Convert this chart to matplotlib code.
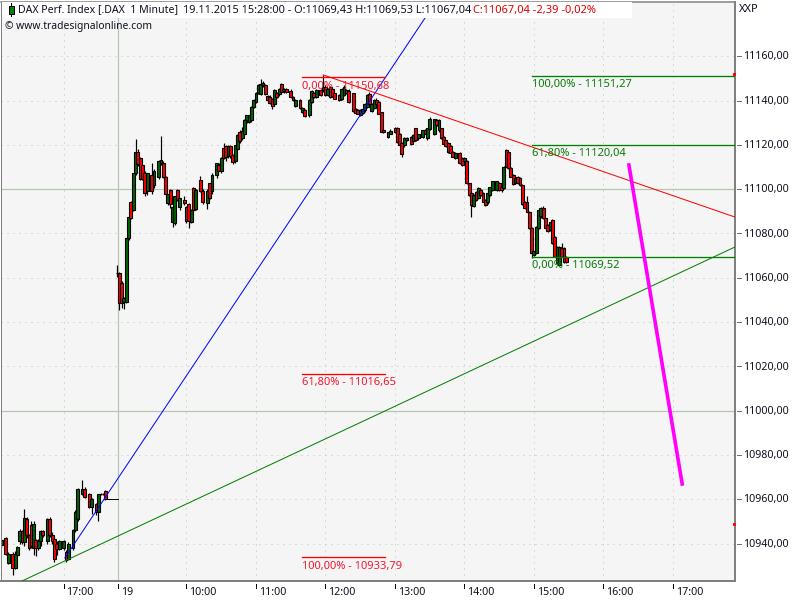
import matplotlib
matplotlib.use("Agg")
import matplotlib.pyplot as plt
from matplotlib.lines import Line2D
from matplotlib.patches import Rectangle

# bar slots: one slot = 2 minutes on the chart's compressed time axis
slots = [
    0, 2, 3, 5, 6, 7, 8, 9, 10, 11, 12, 13, 14, 15, 16, 17, 18, 20, 21, 22,
    23, 24, 25, 27, 28, 29, 31, 32, 33, 35, 36, 38, 39, 41, 42, 43, 44, 45,
    50, 51, 52, 53, 54, 55, 56, 57, 58, 59, 60, 61, 62, 63, 65, 66, 68, 69, 70, 71, 72, 73,
    74, 75, 76, 77, 79, 80, 81, 82, 83, 84, 86, 87, 89, 90, 91, 93, 94, 95, 96,
    97, 98, 99, 100, 101, 102, 103, 104, 105, 106, 107, 108, 109, 110, 111, 112, 113, 114, 115, 116,
    117, 118, 119, 120, 121, 122, 123, 125, 126, 127, 129, 130, 131, 133, 134, 135, 136, 138, 139, 140, 141,
    142, 143, 144, 146, 147, 148, 149, 150, 152, 153, 154, 155, 156, 157, 158, 159, 160, 161, 162, 163,
    164, 165, 167, 168, 170, 171, 172, 173, 174, 175, 177, 178, 179, 180, 182, 183, 184, 185, 187, 188,
    189, 190, 191, 192, 193,
    194, 195, 196, 198, 199, 200, 201, 202, 203, 204, 205, 206, 207, 208, 209, 210, 211, 212, 214, 215,
    216, 217, 218, 219, 220, 221, 222, 223, 224, 225, 226, 227, 228, 229, 230, 231, 232, 233, 234, 235,
    236, 237, 238, 239, 240, 241, 242, 243, 244,
]
opens = [
    10939.3, 10942.3, 10931.4, 10935.5, 10929, 10934.7, 10941, 10945.6, 10940.5, 10951.3, 10943.8, 10948.5, 10938, 10941.5, 10938, 10941, 10945.5, 10941, 10951, 10943.8,
    10942, 10940, 10937.5, 10938, 10936, 10933, 10938, 10946, 10951.3, 10962.6, 10964.8, 10962.6, 10956.5, 10958, 10954.3, 10962.4, 10962.4, 10963.6,
    11062.3, 11062, 11057.8, 11049.2, 11049.2, 11077.8, 11094.1, 11090.6, 11107.2, 11117, 11114, 11111, 11107.2, 11099, 11106.5, 11102, 11105.7, 11111.8, 11111.8, 11105.4, 11093.7, 11099.7,
    11085, 11084.9, 11099.4, 11091.9, 11094.9, 11091.9, 11093.4, 11085.4, 11100.5, 11091, 11104.2, 11099, 11093.7, 11102.7, 11099, 11106.5, 11111, 11108.4, 11118.6,
    11119.4, 11114.9, 11119.7, 11115.3, 11112.8, 11118.3, 11125.9, 11122.9, 11125.1, 11131.1, 11130.4, 11131.1, 11137.1, 11139.4, 11143.5, 11142.9, 11146.9, 11146.9, 11142, 11141.7,
    11140.5, 11138.5, 11143.2, 11142.9, 11147.4, 11144.1, 11145, 11144.4, 11141.7, 11137.4, 11140.2, 11134.9, 11135.9, 11133.4, 11139.4, 11143.5, 11141.7, 11144.7, 11144.7, 11146.2, 11142.4,
    11146.2, 11145.4, 11143.2, 11142.4, 11140.9, 11142.4, 11144.7, 11144.4, 11143.2, 11136.4, 11135.6, 11133.4, 11134.4, 11135.6, 11137.1, 11142.9, 11135.3, 11136.8, 11140.2, 11139.4,
    11134.8, 11126.6, 11123.6, 11125.1, 11127.4, 11127.8, 11125.1, 11120.9, 11119.8, 11122.1, 11123.6, 11121.8, 11127.4, 11122.9, 11123.6, 11126.9, 11122.9, 11127, 11125.1, 11131.1,
    11126.6, 11127.4, 11123.6, 11122.1, 11120.9,
    11119.5, 11117, 11114, 11116.2, 11114, 11112.5, 11112.5, 11102.7, 11098.2, 11092.5, 11098.9, 11095.9, 11099.7, 11098.2, 11095.2, 11094, 11097.4, 11099.7, 11099.7, 11102.7,
    11101.2, 11100.5, 11117.7, 11117, 11109.5, 11106.5, 11102.7, 11105.7, 11105, 11102, 11094.4, 11094.4, 11089.9, 11082.4, 11070.4, 11071.1, 11082.4, 11087.7, 11091.4, 11086.9,
    11083.9, 11081.4, 11086.2, 11078.6, 11066.6, 11065.9, 11073.4, 11073.4, 11069.6,
]
highs = [
    10942, 10943, 10936, 10936, 10936.5, 10939, 10946.5, 10946, 10955.7, 10952, 10944.5, 10950, 10950, 10942, 10942, 10946, 10946, 10951.5, 10952, 10945,
    10943, 10941, 10941.5, 10941.5, 10937, 10940.5, 10946.5, 10955, 10965, 10968.6, 10965.5, 10963, 10960.5, 10958.5, 10962.6, 10963, 10963, 10964,
    11065.8, 11062.5, 11058.5, 11051.5, 11078, 11088, 11094.5, 11107.5, 11122.6, 11118, 11114.5, 11111.5, 11108, 11107.5, 11112, 11109, 11113, 11124.1, 11112.5, 11106, 11098, 11100,
    11092.5, 11096.9, 11100, 11096, 11097, 11092.5, 11093.8, 11091, 11100.8, 11100, 11106, 11100, 11100, 11103, 11107.2, 11112, 11112, 11114.5, 11121,
    11120, 11120, 11120, 11116, 11120, 11125, 11126.5, 11128, 11131.5, 11133.6, 11133.6, 11137.5, 11140.5, 11143.8, 11147.3, 11149.9, 11149, 11147.5, 11142.5, 11142.5,
    11141, 11145, 11143.8, 11145.8, 11148, 11145.8, 11145.5, 11145, 11142, 11140.5, 11140.7, 11137, 11136.3, 11140.5, 11144.8, 11144, 11145.2, 11145.2, 11151.5, 11147, 11145.8,
    11146.7, 11146, 11143.6, 11142.8, 11145.5, 11146.9, 11145, 11145, 11143.6, 11136.8, 11136, 11136.2, 11136.6, 11139, 11142.8, 11144, 11138.8, 11140.5, 11141, 11139.8,
    11135, 11127, 11125.9, 11127, 11128, 11128.2, 11125.4, 11121.2, 11123.6, 11123.6, 11124, 11124.7, 11127.8, 11125, 11126.9, 11127.3, 11127.8, 11132.6, 11131.9, 11131.5,
    11131.5, 11127.8, 11124, 11122.4, 11121.3,
    11120, 11117.4, 11116.8, 11116.7, 11114.5, 11114.4, 11113, 11103, 11098.5, 11097.8, 11099.3, 11100.9, 11100, 11098.6, 11095.6, 11098.6, 11101.2, 11103.8, 11103.8, 11103.2,
    11101.6, 11110.5, 11118, 11117.4, 11110, 11106.9, 11105.2, 11106, 11105.5, 11102.3, 11094.8, 11096.7, 11090.3, 11082.8, 11072, 11083.3, 11091, 11091.8, 11092.6, 11087.2,
    11084.3, 11085.4, 11086.6, 11079, 11074.5, 11074.5, 11075.6, 11073.8, 11070,
]
lows = [
    10938, 10935, 10931, 10926, 10928.5, 10934, 10940, 10940, 10939, 10942.5, 10937, 10938, 10935, 10934.5, 10937, 10939, 10943, 10940, 10943, 10940,
    10931.5, 10935, 10937, 10937, 10931.5, 10932.5, 10937, 10945, 10950, 10962, 10960.5, 10956, 10953.5, 10953, 10950, 10962, 10962, 10959.5,
    11060.5, 11045.4, 11046.5, 11046, 11048.5, 11077, 11086.5, 11090, 11106.5, 11110.5, 11104, 11104, 11097, 11097.5, 11098, 11100.5, 11104.5, 11111, 11105, 11097, 11093, 11091.5,
    11083.1, 11083.8, 11094.5, 11090.5, 11093, 11084.5, 11082.5, 11084.5, 11090, 11090.5, 11098.5, 11093.5, 11091, 11095.5, 11098, 11105, 11108, 11107.5, 11113.5,
    11112.5, 11114, 11114, 11111.5, 11112, 11117.5, 11121, 11122, 11124, 11130, 11130, 11130.5, 11136.5, 11139, 11143, 11142.5, 11146, 11142.5, 11139.8, 11138.5,
    11136.4, 11138, 11141.2, 11142, 11143.5, 11143.5, 11143.4, 11141.2, 11139.8, 11137, 11136.4, 11134.5, 11132.6, 11132.6, 11139, 11141, 11141, 11142, 11144, 11142, 11142,
    11141, 11141.5, 11140.5, 11139.8, 11140.3, 11142, 11143, 11139, 11135, 11134, 11133.8, 11133, 11134, 11135, 11136.8, 11138.3, 11134.7, 11136.3, 11138, 11134,
    11125.7, 11125.2, 11122.9, 11124.7, 11125.5, 11121, 11119.4, 11114.6, 11119, 11121.6, 11120, 11121.2, 11121.8, 11122.4, 11123, 11124.7, 11122.3, 11126.6, 11124.5, 11128.5,
    11126, 11122.5, 11120.2, 11119, 11116.4,
    11116, 11114.3, 11113.5, 11111.3, 11110.6, 11112, 11102.3, 11097, 11087.4, 11092, 11094.8, 11095.5, 11097, 11094, 11092.5, 11093.5, 11097, 11099.2, 11099.2, 11099,
    11098.8, 11100, 11109.8, 11109, 11105.4, 11102, 11102.3, 11102.3, 11101.6, 11092.9, 11091, 11089.5, 11082, 11068.9, 11070, 11070.7, 11082, 11087.2, 11086.5, 11082,
    11080.5, 11081, 11075.2, 11069.2, 11066, 11065.5, 11069.2, 11066.5, 11066.5,
]
closes = [
    10941.5, 10935.5, 10935.5, 10929, 10935.5, 10938.5, 10945.6, 10940.5, 10951.5, 10943.8, 10938, 10939, 10949, 10938, 10941, 10945.5, 10944, 10951, 10943.8, 10941,
    10933, 10937.5, 10941, 10941, 10932.8, 10940, 10946, 10954.3, 10964.8, 10964.8, 10961, 10956.5, 10960, 10954.3, 10962.6, 10962.6, 10962.6, 10960,
    11062, 11048.4, 11048.7, 11051, 11077.8, 11087.6, 11087, 11107.2, 11117, 11111.3, 11104.7, 11104.5, 11098.2, 11107.2, 11099, 11108.4, 11112.5, 11113, 11105.4, 11097.9, 11097.9, 11093.4,
    11091.9, 11096.7, 11095.2, 11095.9, 11093.7, 11085.8, 11085.8, 11090.6, 11090.6, 11099.7, 11099, 11094.1, 11099, 11095.9, 11106.5, 11111.8, 11108.4, 11114, 11114,
    11114.3, 11119.4, 11114.9, 11112.3, 11119.8, 11124.4, 11121.8, 11126.2, 11131.1, 11133.4, 11133.4, 11137.1, 11140.2, 11143.5, 11146.9, 11147.7, 11148, 11142.9, 11140.2, 11138.9,
    11137.4, 11144.7, 11141.7, 11145.4, 11143.9, 11145.4, 11143.8, 11141.7, 11140.2, 11140.2, 11136.8, 11136.8, 11133.2, 11140.2, 11144.4, 11141.4, 11144.7, 11142.4, 11146.2, 11142.4, 11145.4,
    11141.7, 11142, 11140.9, 11140.2, 11145, 11145.9, 11143.2, 11139.4, 11135.3, 11134.4, 11134.1, 11135.9, 11136.4, 11138.6, 11142.4, 11138.6, 11138.6, 11140.2, 11138.6, 11134.1,
    11125.9, 11125.6, 11125.6, 11126.2, 11125.9, 11121.4, 11119.8, 11116.1, 11123.3, 11123.3, 11120.3, 11124.4, 11122.1, 11124.8, 11126.6, 11125.1, 11127.4, 11131.9, 11131.9, 11128.9,
    11131.1, 11122.9, 11120.6, 11119.4, 11116.8,
    11116.5, 11114.7, 11116.5, 11111.7, 11111, 11114, 11102.7, 11097.4, 11092.9, 11097.4, 11095.2, 11100.5, 11097.4, 11094.4, 11092.9, 11098.2, 11100.9, 11103.5, 11103.5, 11099.7,
    11099.7, 11110.2, 11110.2, 11109.5, 11105.7, 11102.3, 11105, 11102.7, 11102, 11093.2, 11091.4, 11089.9, 11082.4, 11071.1, 11071.9, 11082.9, 11090.7, 11091.4, 11086.9, 11082.4,
    11080.9, 11085, 11075.6, 11069.6, 11074.1, 11074.1, 11069.6, 11066.9, 11067.04,
]

prior_close_slots = [45, 50.5]
prior_close_price = [10960, 10960]

# trend lines (slot, price)
blue_x = [27.5, 183]
blue_y = [10933.5, 11177.3]
red_x = [139, 316.8]
red_y = [11151.6, 11087.4]
green_x = [9, 316.8]
green_y = [10923.1, 11073.9]
magenta_x = [271, 294]
magenta_y = [11110.9, 10966.9]

# fibonacci levels
red_fib_prices = [11150.68, 11016.65, 10933.79]
red_fib_labels = ["0,00% - 11150,68", "61,80% - 11016,65", "100,00% - 10933,79"]
red_fib_x = [130, 165.7]
green_fib_prices = [11151.27, 11120.04, 11069.52]
green_fib_labels = ["100,00% - 11151,27", "61,80% - 11120,04", "0,00% - 11069,52"]
green_fib_x = [229.2, 316.8]

price_ticks = list(range(10940, 11161, 20))
solid_price_lines = [11000, 11100]
time_ticks = [27, 50.5, 80, 110, 140, 170, 200, 230, 260, 290]
time_labels = ["17:00", "19", "10:00", "11:00", "12:00", "13:00", "14:00", "15:00", "16:00", "17:00"]
edge_mark_prices = [11152, 10948.9]

FONT = "Noto Sans"
BULL = "#006400"
BEAR = "#ff0000"
GRID = "#b4c6b0"
PX = 0.72  # one pixel in points at dpi 100

fig = plt.figure(figsize=(8, 6), dpi=100, facecolor="white")
ax = fig.add_axes([1 / 800, 19 / 600, 734 / 800, 579 / 600], facecolor="#f5f5f5")
ax.set_xlim(-0.07, 316.8)
ax.set_ylim(10923.1, 11184.5)

for p in price_ticks:
    if p in solid_price_lines:
        ax.axhline(p, color=GRID, lw=1.2 * PX, zorder=1)
    else:
        ax.axhline(p, color=GRID, lw=PX, ls=(0, (1, 5)), zorder=1)
for t in time_ticks:
    if t == 50.5:
        ax.axvline(t, color=GRID, lw=1.2 * PX, zorder=1)
    else:
        ax.axvline(t, color=GRID, lw=PX, ls=(0, (1, 5)), zorder=1)

# candles
colors = [BULL if c >= o else BEAR for o, c in zip(opens, closes)]
ax.vlines(slots, lows, highs, color="black", lw=1.2 * PX, zorder=2)
tops = [max(o, c) for o, c in zip(opens, closes)]
bottoms = [min(o, c) for o, c in zip(opens, closes)]
heights = [t - b for t, b in zip(tops, bottoms)]
ax.bar(slots, heights, bottom=bottoms, width=1.25, color=colors,
       edgecolor="black", linewidth=1.1 * PX, zorder=2)
ax.plot(prior_close_slots, prior_close_price, color="black", lw=PX, zorder=2)

ax.plot(blue_x, blue_y, color="#0000ff", lw=PX, zorder=4)
ax.plot(red_x, red_y, color="#ff0000", lw=PX, zorder=4)
ax.plot(green_x, green_y, color="#008000", lw=PX, zorder=4)
ax.plot(magenta_x, magenta_y, color="#ff00ff", lw=3.6 * PX, zorder=5)

for price, label in zip(red_fib_prices, red_fib_labels):
    ax.plot(red_fib_x, [price, price], color="#ff0000", lw=1.3 * PX, zorder=4)
    ax.annotate(label, (red_fib_x[0], price), xytext=(0, -6.6), textcoords="offset points",
                color="#f01830", fontsize=8, family=FONT, va="center", zorder=6)
for price, label in zip(green_fib_prices, green_fib_labels):
    ax.plot(green_fib_x, [price, price], color="#008000", lw=1.3 * PX, zorder=4)
    ax.annotate(label, (green_fib_x[0], price), xytext=(0, -6.6), textcoords="offset points",
                color="#0a7a0a", fontsize=8, family=FONT, va="center", zorder=6)

ax.plot([316.5] * len(edge_mark_prices), edge_mark_prices, ls="none", marker="s", ms=1.2,
        color="#ff0000", zorder=6, clip_on=False)

ax.set_xticks([])
ax.set_yticks([])
for side in ax.spines:
    ax.spines[side].set_color("#808080")
ax.spines["left"].set_linewidth(PX)
ax.spines["top"].set_linewidth(1.5 * PX)
ax.spines["right"].set_linewidth(2 * PX)
ax.spines["bottom"].set_linewidth(2 * PX)

# axis ticks stand clear of the frame, so they are drawn by hand
ytrans = ax.get_yaxis_transform()
for p in price_ticks:
    ax.plot([1 + 2 / 734, 1 + 6 / 734], [p, p], transform=ytrans, color="#707070",
            lw=PX, clip_on=False)
    ax.annotate(f"{p},00", (1, p), xycoords=ytrans, xytext=(6, -0.5), textcoords="offset points",
                family=FONT, fontsize=7.7, color="#101020", va="center")
xtrans = ax.get_xaxis_transform()
for t, label in zip(time_ticks, time_labels):
    ax.plot([t, t], [-3 / 579, -7 / 579], transform=xtrans, color="black", lw=PX, clip_on=False)
    ax.annotate(label, (t, 0), xycoords=xtrans, xytext=(2, -8.5), textcoords="offset points",
                family=FONT, fontsize=7.7, color="#101020", va="center")

fig.text(739 / 800, 1 - 10 / 600, "XXP", family=FONT, fontsize=8, color="#101020", va="center")

# header strip with the quote line
fig.patches.append(Rectangle((2 / 800, 1 - 18 / 600), 630 / 800, 16 / 600, transform=fig.transFigure,
                             facecolor="white", edgecolor="none", zorder=8))
fig.add_artist(Line2D([11 / 800, 11 / 800], [1 - 3 / 600, 1 - 16 / 600], color="black", lw=PX, zorder=9))
fig.patches.append(Rectangle((9 / 800, 1 - 14 / 600), 5 / 800, 8 / 600, transform=fig.transFigure,
                             facecolor="#008000", edgecolor="black", linewidth=PX, zorder=9))
fig.text(18 / 800, 1 - 10 / 600, "DAX Perf. Index [.DAX  1 Minute]",
         family=FONT, fontsize=7.6, color="#101020", va="center", zorder=10)
fig.text(183 / 800, 1 - 10 / 600, "19.11.2015 15:28:00 - O:11069,43 H:11069,53 L:11067,04",
         family=FONT, fontsize=7.9, color="#101020", va="center", zorder=10)
fig.text(473 / 800, 1 - 10 / 600, "C:11067,04 -2,39 -0,02%", family=FONT, fontsize=8,
         color="#e00000", va="center", zorder=10)
fig.text(5 / 800, 1 - 27 / 600, "© www.tradesignalonline.com", family=FONT, fontsize=7.4,
         color="#101020", va="center", zorder=10)

fig.savefig("out.png", dpi=100)
